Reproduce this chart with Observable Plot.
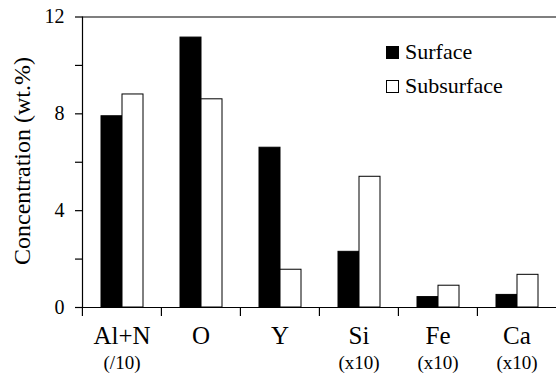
<!DOCTYPE html>
<html><head><meta charset="utf-8">
<script src="https://cdn.jsdelivr.net/npm/d3@7"></script>
<script src="https://cdn.jsdelivr.net/npm/@observablehq/plot@0.6"></script>
<style>
body{margin:0;background:#fff;}
#chart{position:relative;width:556px;height:376px;font-family:"Liberation Serif","DejaVu Serif",serif;color:#000;}
#chart svg text{font-family:"Liberation Serif","DejaVu Serif",serif;}
.legend{position:absolute;left:386px;font-size:22px;line-height:22px;display:flex;align-items:center;white-space:nowrap;font-family:"Liberation Serif","DejaVu Serif",serif;}
.sw{display:inline-block;width:13px;height:13px;box-sizing:border-box;border:1.2px solid #000;margin-right:6px;}
.ylabel{position:absolute;left:22px;top:160.5px;font-size:24px;white-space:nowrap;transform:translate(-50%,-50%) rotate(-90deg);font-family:"Liberation Serif","DejaVu Serif",serif;line-height:1;}
</style>
</head><body><div id="chart"></div>
<script>
const categories = ["Al+N", "O", "Y", "Si", "Fe", "Ca"];
const sublabels = ["(/10)", "", "", "(x10)", "(x10)", "(x10)"];
const series = ["Surface", "Subsurface"];
const surface = [7.9, 11.15, 6.6, 2.3, 0.43, 0.52];
const subsurface = [8.8, 8.6, 1.56, 5.4, 0.9, 1.35];
const yTicks = [0, 4, 8, 12];
const yMinorTicks = [2, 6, 10];
const yLabel = "Concentration (wt.%)";

const rows = [];
categories.forEach((c, i) => {
  rows.push({category: c, series: series[0], value: surface[i]});
  rows.push({category: c, series: series[1], value: subsurface[i]});
});
const labelRows = categories.map((c, i) => ({category: c, sub: sublabels[i]}));

const W = 556, H = 376, mL = 81, mR = 0, mT = 16.5, mB = 69;
const bw = (W - mL - mR) / categories.length;
const font = "'Liberation Serif', 'DejaVu Serif', serif";

const chart = Plot.plot({
  width: W, height: H,
  marginLeft: mL, marginRight: mR, marginTop: mT, marginBottom: mB,
  style: {fontFamily: font, background: "white", color: "black", overflow: "visible"},
  fx: {domain: categories, padding: 0, axis: null},
  x: {domain: series, paddingInner: 0, paddingOuter: 0.8, axis: null},
  y: {domain: [0, 12], axis: null},
  color: {domain: series, range: ["black", "white"]},
  marks: [
    Plot.barY(rows, {fx: "category", x: "series", y: "value", fill: "series", stroke: "black", strokeWidth: 1}),
    Plot.ruleY([0, 12], {stroke: "black", strokeWidth: 1.2}),
    Plot.frame({anchor: "left", facetAnchor: "left", stroke: "black", strokeWidth: 1.2}),
    Plot.axisY(yTicks, {tickSize: 7, tickPadding: 11, fontSize: 20, tickFormat: d => String(d), strokeWidth: 1.2, label: null}),
    Plot.axisY(yMinorTicks, {tickSize: 7, tickFormat: () => "", strokeWidth: 1.2, label: null}),
    Plot.axisFx({anchor: "bottom", tickSize: 9, tickFormat: () => "", dx: -bw / 2, strokeWidth: 1.2, label: null}),
    Plot.text(labelRows, {fx: "category", text: "category", frameAnchor: "bottom", dy: 36, fontSize: 25}),
    Plot.text(labelRows, {fx: "category", text: "sub", frameAnchor: "bottom", dy: 61, fontSize: 19})
  ]
});
const host = document.getElementById("chart");
host.appendChild(chart);

const yl = document.createElement("div");
yl.className = "ylabel";
yl.textContent = yLabel;
host.appendChild(yl);

series.forEach((s, i) => {
  const d = document.createElement("div");
  d.className = "legend";
  d.style.top = (i === 0 ? 41 : 75) + "px";
  const sw = document.createElement("span");
  sw.className = "sw";
  sw.style.background = i === 0 ? "#000" : "#fff";
  d.appendChild(sw);
  d.appendChild(document.createTextNode(s));
  host.appendChild(d);
});
</script>
</body></html>
